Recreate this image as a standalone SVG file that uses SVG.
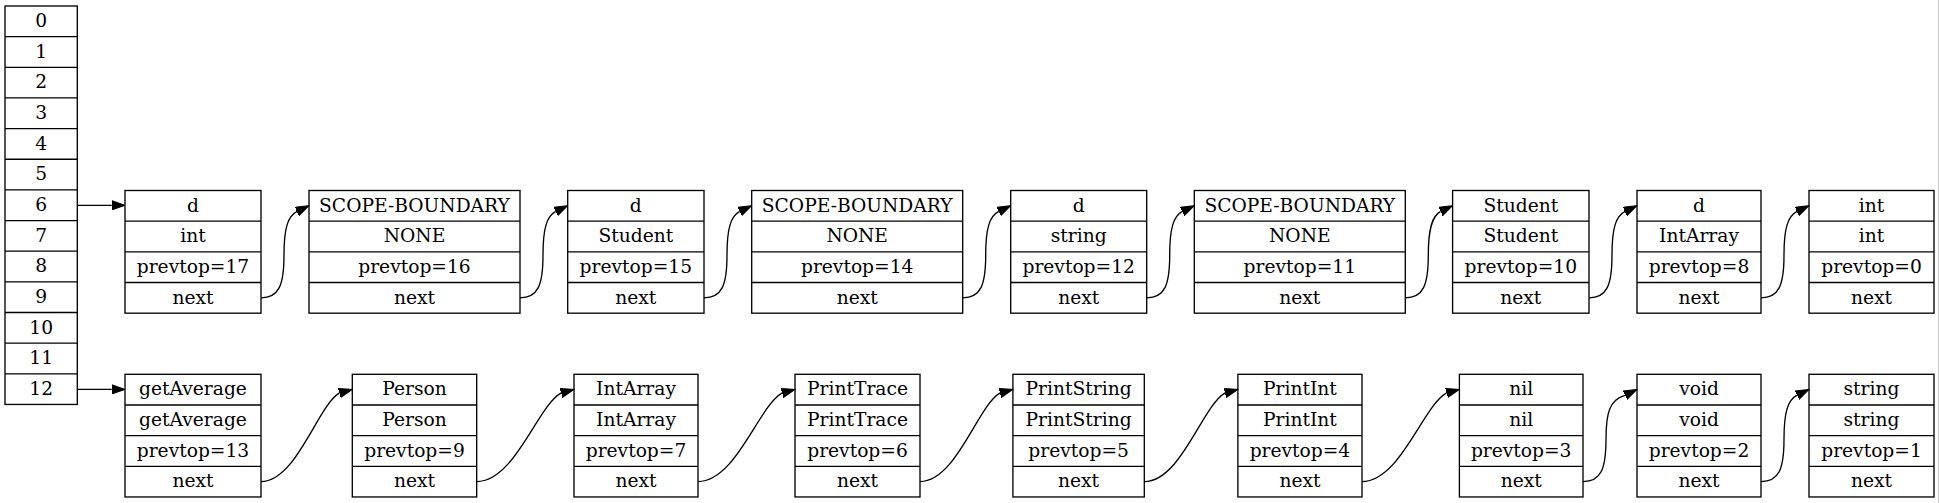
<svg xmlns="http://www.w3.org/2000/svg" width="1939" height="503" viewBox="0 0 1939 503">
<style>
.box{fill:#fff;stroke:#000;stroke-width:1.33}
.sep{stroke:#000;stroke-width:1.33}
.t{font-family:"DejaVu Serif","Liberation Serif",serif;font-size:18.67px;text-anchor:middle;fill:#000}
.e{fill:none;stroke:#000;stroke-width:1.33;marker-end:url(#ah)}
</style>
<defs>
<marker id="ah" markerUnits="userSpaceOnUse" markerWidth="14" markerHeight="10" viewBox="0 -5 14 10" refX="0" refY="0" orient="auto">
<path d="M0,-4.67 L13.3,0 L0,4.67 z" fill="#000" stroke="#000" stroke-width="1"/>
</marker>
</defs>
<rect width="1939" height="503" fill="#fff"/>
<line x1="1938.5" y1="0" x2="1938.5" y2="503" stroke="#c8c8c8" stroke-width="1"/>

<g id="table">
<rect class="box" x="5" y="6" width="72.3" height="398.45"/>
<path class="sep" d="M5,36.65H77.3M5,67.3H77.3M5,97.95H77.3M5,128.6H77.3M5,159.25H77.3M5,189.9H77.3M5,220.55H77.3M5,251.2H77.3M5,281.85H77.3M5,312.5H77.3M5,343.15H77.3M5,373.8H77.3"/>
<text class="t" x="41.15" y="27.1">0</text>
<text class="t" x="41.15" y="57.8">1</text>
<text class="t" x="41.15" y="88.4">2</text>
<text class="t" x="41.15" y="119.1">3</text>
<text class="t" x="41.15" y="149.7">4</text>
<text class="t" x="41.15" y="180.4">5</text>
<text class="t" x="41.15" y="211.0">6</text>
<text class="t" x="41.15" y="241.7">7</text>
<text class="t" x="41.15" y="272.3">8</text>
<text class="t" x="41.15" y="303.0">9</text>
<text class="t" x="41.15" y="333.6">10</text>
<text class="t" x="41.15" y="364.3">11</text>
<text class="t" x="41.15" y="394.9">12</text>
</g>

<!-- top row -->
<g id="t1">
<rect class="box" x="125" y="190.5" width="136" height="122.67"/>
<path class="sep" d="M125,221.17H261M125,251.83H261M125,282.5H261"/>
<text class="t" x="193" y="211.6">d</text><text class="t" x="193" y="242.3">int</text><text class="t" x="193" y="272.9">prevtop=17</text><text class="t" x="193" y="303.6">next</text>
</g>
<g id="t2">
<rect class="box" x="309" y="190.5" width="211" height="122.67"/>
<path class="sep" d="M309,221.17H520M309,251.83H520M309,282.5H520"/>
<text class="t" x="414.5" y="211.6">SCOPE-BOUNDARY</text><text class="t" x="414.5" y="242.3">NONE</text><text class="t" x="414.5" y="272.9">prevtop=16</text><text class="t" x="414.5" y="303.6">next</text>
</g>
<g id="t3">
<rect class="box" x="567.7" y="190.5" width="136.3" height="122.67"/>
<path class="sep" d="M567.7,221.17H704M567.7,251.83H704M567.7,282.5H704"/>
<text class="t" x="635.85" y="211.6">d</text><text class="t" x="635.85" y="242.3">Student</text><text class="t" x="635.85" y="272.9">prevtop=15</text><text class="t" x="635.85" y="303.6">next</text>
</g>
<g id="t4">
<rect class="box" x="751.7" y="190.5" width="211" height="122.67"/>
<path class="sep" d="M751.7,221.17H962.7M751.7,251.83H962.7M751.7,282.5H962.7"/>
<text class="t" x="857.2" y="211.6">SCOPE-BOUNDARY</text><text class="t" x="857.2" y="242.3">NONE</text><text class="t" x="857.2" y="272.9">prevtop=14</text><text class="t" x="857.2" y="303.6">next</text>
</g>
<g id="t5">
<rect class="box" x="1010.7" y="190.5" width="136" height="122.67"/>
<path class="sep" d="M1010.7,221.17H1146.7M1010.7,251.83H1146.7M1010.7,282.5H1146.7"/>
<text class="t" x="1078.7" y="211.6">d</text><text class="t" x="1078.7" y="242.3">string</text><text class="t" x="1078.7" y="272.9">prevtop=12</text><text class="t" x="1078.7" y="303.6">next</text>
</g>
<g id="t6">
<rect class="box" x="1194.3" y="190.5" width="211" height="122.67"/>
<path class="sep" d="M1194.3,221.17H1405.3M1194.3,251.83H1405.3M1194.3,282.5H1405.3"/>
<text class="t" x="1299.8" y="211.6">SCOPE-BOUNDARY</text><text class="t" x="1299.8" y="242.3">NONE</text><text class="t" x="1299.8" y="272.9">prevtop=11</text><text class="t" x="1299.8" y="303.6">next</text>
</g>
<g id="t7">
<rect class="box" x="1452.6" y="190.5" width="136.4" height="122.67"/>
<path class="sep" d="M1452.6,221.17H1589M1452.6,251.83H1589M1452.6,282.5H1589"/>
<text class="t" x="1520.8" y="211.6">Student</text><text class="t" x="1520.8" y="242.3">Student</text><text class="t" x="1520.8" y="272.9">prevtop=10</text><text class="t" x="1520.8" y="303.6">next</text>
</g>
<g id="t8">
<rect class="box" x="1637" y="190.5" width="124" height="122.67"/>
<path class="sep" d="M1637,221.17H1761M1637,251.83H1761M1637,282.5H1761"/>
<text class="t" x="1699" y="211.6">d</text><text class="t" x="1699" y="242.3">IntArray</text><text class="t" x="1699" y="272.9">prevtop=8</text><text class="t" x="1699" y="303.6">next</text>
</g>
<g id="t9">
<rect class="box" x="1809" y="190.5" width="125" height="122.67"/>
<path class="sep" d="M1809,221.17H1934M1809,251.83H1934M1809,282.5H1934"/>
<text class="t" x="1871.5" y="211.6">int</text><text class="t" x="1871.5" y="242.3">int</text><text class="t" x="1871.5" y="272.9">prevtop=0</text><text class="t" x="1871.5" y="303.6">next</text>
</g>

<!-- bottom row -->
<g id="b1">
<rect class="box" x="125" y="374.3" width="136" height="122.67"/>
<path class="sep" d="M125,404.97H261M125,435.63H261M125,466.3H261"/>
<text class="t" x="193" y="395.4">getAverage</text><text class="t" x="193" y="426.1">getAverage</text><text class="t" x="193" y="456.8">prevtop=13</text><text class="t" x="193" y="487.4">next</text>
</g>
<g id="b2">
<rect class="box" x="352.3" y="374.3" width="124.4" height="122.67"/>
<path class="sep" d="M352.3,404.97H476.7M352.3,435.63H476.7M352.3,466.3H476.7"/>
<text class="t" x="414.5" y="395.4">Person</text><text class="t" x="414.5" y="426.1">Person</text><text class="t" x="414.5" y="456.8">prevtop=9</text><text class="t" x="414.5" y="487.4">next</text>
</g>
<g id="b3">
<rect class="box" x="574" y="374.3" width="124" height="122.67"/>
<path class="sep" d="M574,404.97H698M574,435.63H698M574,466.3H698"/>
<text class="t" x="636" y="395.4">IntArray</text><text class="t" x="636" y="426.1">IntArray</text><text class="t" x="636" y="456.8">prevtop=7</text><text class="t" x="636" y="487.4">next</text>
</g>
<g id="b4">
<rect class="box" x="795" y="374.3" width="125" height="122.67"/>
<path class="sep" d="M795,404.97H920M795,435.63H920M795,466.3H920"/>
<text class="t" x="857.5" y="395.4">PrintTrace</text><text class="t" x="857.5" y="426.1">PrintTrace</text><text class="t" x="857.5" y="456.8">prevtop=6</text><text class="t" x="857.5" y="487.4">next</text>
</g>
<g id="b5">
<rect class="box" x="1012.9" y="374.3" width="131.4" height="122.67"/>
<path class="sep" d="M1012.9,404.97H1144.3M1012.9,435.63H1144.3M1012.9,466.3H1144.3"/>
<text class="t" x="1078.6" y="395.4">PrintString</text><text class="t" x="1078.6" y="426.1">PrintString</text><text class="t" x="1078.6" y="456.8">prevtop=5</text><text class="t" x="1078.6" y="487.4">next</text>
</g>
<g id="b6">
<rect class="box" x="1237.9" y="374.3" width="124.1" height="122.67"/>
<path class="sep" d="M1237.9,404.97H1362M1237.9,435.63H1362M1237.9,466.3H1362"/>
<text class="t" x="1299.95" y="395.4">PrintInt</text><text class="t" x="1299.95" y="426.1">PrintInt</text><text class="t" x="1299.95" y="456.8">prevtop=4</text><text class="t" x="1299.95" y="487.4">next</text>
</g>
<g id="b7">
<rect class="box" x="1459.4" y="374.3" width="123.6" height="122.67"/>
<path class="sep" d="M1459.4,404.97H1583M1459.4,435.63H1583M1459.4,466.3H1583"/>
<text class="t" x="1521.2" y="395.4">nil</text><text class="t" x="1521.2" y="426.1">nil</text><text class="t" x="1521.2" y="456.8">prevtop=3</text><text class="t" x="1521.2" y="487.4">next</text>
</g>
<g id="b8">
<rect class="box" x="1637" y="374.3" width="124" height="122.67"/>
<path class="sep" d="M1637,404.97H1761M1637,435.63H1761M1637,466.3H1761"/>
<text class="t" x="1699" y="395.4">void</text><text class="t" x="1699" y="426.1">void</text><text class="t" x="1699" y="456.8">prevtop=2</text><text class="t" x="1699" y="487.4">next</text>
</g>
<g id="b9">
<rect class="box" x="1809" y="374.3" width="125" height="122.67"/>
<path class="sep" d="M1809,404.97H1934M1809,435.63H1934M1809,466.3H1934"/>
<text class="t" x="1871.5" y="395.4">string</text><text class="t" x="1871.5" y="426.1">string</text><text class="t" x="1871.5" y="456.8">prevtop=1</text><text class="t" x="1871.5" y="487.4">next</text>
</g>

<g id="connectors">
<path class="e" d="M77.3,205.3 L111.7,205.3"/>
<path class="e" d="M77.3,389.4 L111.7,389.4"/>
<path class="e" d="M261,297.8 C279,297.8 284,285 284,255 C284,228 288,216 296.7,211.6 l0.27,-0.13"/>
<path class="e" d="M520,297.8 C538,297.8 543,285 543,255 C543,228 547,216 555.4,211.6 l0.27,-0.13"/>
<path class="e" d="M704,297.8 C722,297.8 727,285 727,255 C727,228 731,216 739.4,211.6 l0.27,-0.13"/>
<path class="e" d="M962.7,297.8 C980.7,297.8 985.7,285 985.7,255 C985.7,228 989.7,216 998.4,211.6 l0.27,-0.13"/>
<path class="e" d="M1146.7,297.8 C1164.7,297.8 1169.7,285 1169.7,255 C1169.7,228 1173.7,216 1182,211.6 l0.27,-0.13"/>
<path class="e" d="M1405.3,297.8 C1423.3,297.8 1428.3,285 1428.3,255 C1428.3,228 1432.3,216 1440.3,211.6 l0.27,-0.13"/>
<path class="e" d="M1589,297.8 C1607,297.8 1612,285 1612,255 C1612,228 1616,216 1624.7,211.6 l0.27,-0.13"/>
<path class="e" d="M1761,297.8 C1779,297.8 1784,285 1784,255 C1784,228 1788,216 1796.7,211.6 l0.27,-0.13"/>
<path class="e" d="M261,481.6 C296.2,481.6 317.3,406.4 339.16,393.1 l0.29,-0.08"/>
<path class="e" d="M476.7,481.6 C514.6,481.6 537.3,406.4 560.86,393.1 l0.29,-0.08"/>
<path class="e" d="M698,481.6 C735.7,481.6 758.4,406.4 781.86,393.1 l0.29,-0.08"/>
<path class="e" d="M920,481.6 C955.9,481.6 977.4,406.4 999.76,393.1 l0.29,-0.08"/>
<path class="e" d="M1144.3,481.6 C1180.5,481.6 1202.2,406.4 1224.76,393.1 l0.29,-0.08"/>
<path class="e" d="M1362,481.6 C1399.9,481.6 1422.7,406.4 1446.26,393.1 l0.29,-0.08"/>
<path class="e" d="M1583,481.6 C1601,481.6 1606,469 1606,439 C1606,412 1610,400 1624.7,395.4 l0.27,-0.13"/>
<path class="e" d="M1761,481.6 C1779,481.6 1784,469 1784,439 C1784,412 1788,400 1796.7,395.4 l0.27,-0.13"/>
</g>
</svg>
